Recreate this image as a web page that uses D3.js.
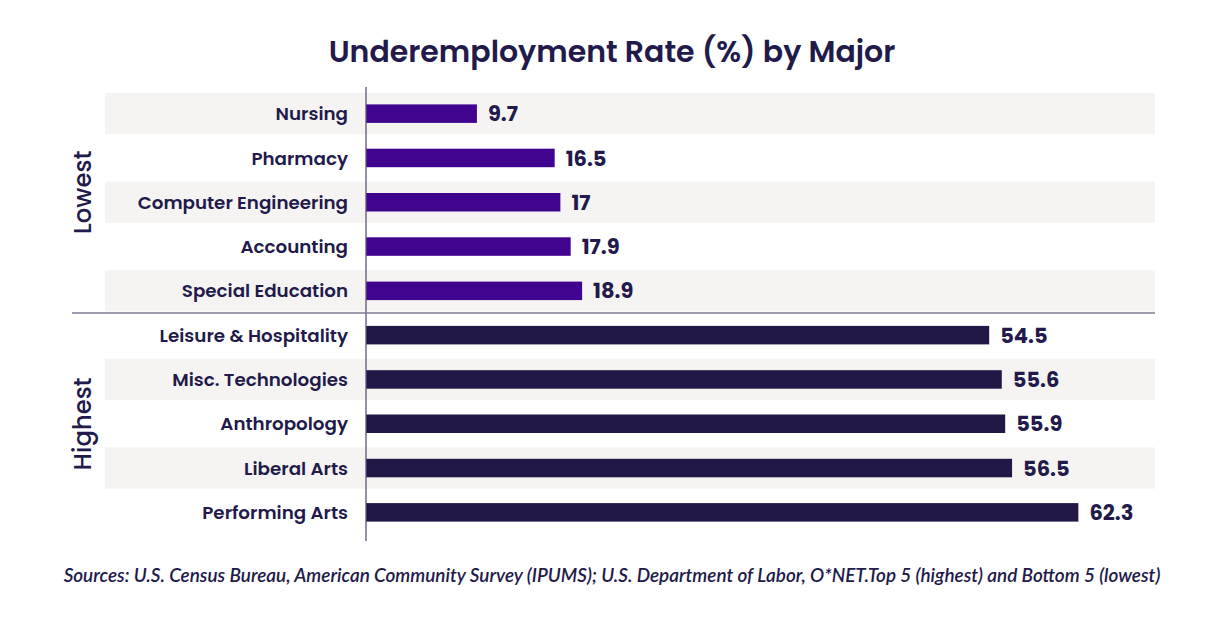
<!DOCTYPE html>
<html><head><meta charset="utf-8">
<script src="https://cdn.jsdelivr.net/npm/d3@7"></script>
<style>body{margin:0;background:#fff}svg{display:block}</style>
</head><body>
<svg id="c" width="1224" height="621"></svg>
<script>
const categories = ["Nursing","Pharmacy","Computer Engineering","Accounting","Special Education","Leisure & Hospitality","Misc. Technologies","Anthropology","Liberal Arts","Performing Arts"];
const values = [9.7,16.5,17,17.9,18.9,54.5,55.6,55.9,56.5,62.3];
const groups = ["Lowest","Lowest","Lowest","Lowest","Lowest","Highest","Highest","Highest","Highest","Highest"];
const groupNames = ["Lowest","Highest"];
const title = "Underemployment Rate (%) by Major";
const source = "Sources: U.S. Census Bureau, American Community Survey (IPUMS); U.S. Department of Labor, O*NET.Top 5 (highest) and Bottom 5 (lowest)";

const svg = d3.select("#c");
const ink = "#221a4a";
const colors = {Lowest:"#40048f", Highest:"#221747"};
const font = "Poppins, Inter, 'Open Sans', sans-serif";

const x = d3.scaleLinear().domain([0,69]).range([366,1155]);
const y = d3.scaleBand().domain(categories).range([91.5,534.5]);
const step = y.step();

svg.append("text").attr("x",612).attr("y",62).attr("text-anchor","middle")
  .attr("font-family",font).attr("font-weight",600).attr("font-size",30).attr("fill",ink).text(title);

// background bands
svg.selectAll("rect.band").data(categories.filter((d,i)=>i%2===0)).join("rect")
  .attr("x",105).attr("width",1155-105)
  .attr("y",d=>y(d)+1.5).attr("height",step-3).attr("fill","#f5f4f2");

// bars
const bh = 18.5;
svg.selectAll("rect.bar").data(categories).join("rect")
  .attr("x",x(0)).attr("y",d=>y(d)+step/2-bh/2).attr("height",bh)
  .attr("width",(d,i)=>x(values[i])-x(0)).attr("fill",(d,i)=>colors[groups[i]]);

// value labels
svg.selectAll("text.val").data(categories).join("text")
  .attr("x",(d,i)=>x(values[i])+11).attr("y",d=>y(d)+step/2).attr("dy","0.36em")
  .attr("font-family",font).attr("font-weight",700).attr("font-size",21).attr("fill",ink)
  .text((d,i)=>d3.format("")(values[i]));

// category labels
svg.selectAll("text.cat").data(categories).join("text")
  .attr("x",348).attr("y",d=>y(d)+step/2).attr("dy","0.36em").attr("text-anchor","end")
  .attr("font-family",font).attr("font-weight",600).attr("font-size",18.3).attr("fill",ink).text(d=>d);

// axis line
svg.append("line").attr("x1",x(0)).attr("x2",x(0)).attr("y1",87).attr("y2",541)
  .attr("stroke","#5b5278").attr("stroke-width",1.3);

// separator
const sepY = y(categories[5]);
svg.append("line").attr("x1",72).attr("x2",1155).attr("y1",sepY).attr("y2",sepY)
  .attr("stroke","#827a99").attr("stroke-width",1.5);

// group labels
const groupShift = {Lowest:-10, Highest:0};
groupNames.forEach(g=>{
  const idx = categories.filter((d,i)=>groups[i]===g);
  const cy = (y(idx[0]) + y(idx[idx.length-1]) + step)/2 + groupShift[g];
  svg.append("text").attr("transform",`translate(90.5,${cy}) rotate(-90)`).attr("text-anchor","middle")
    .attr("font-family",font).attr("font-weight",500).attr("font-size",24.3).attr("fill",ink).text(g);
});

svg.append("text").attr("x",612).attr("y",582).attr("text-anchor","middle")
  .attr("font-family","Lato, sans-serif").attr("font-style","italic").attr("font-weight",600)
  .attr("font-size",18.9).attr("fill",ink).text(source);
</script>
</body></html>
